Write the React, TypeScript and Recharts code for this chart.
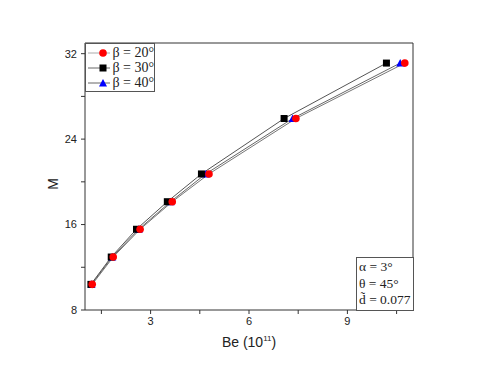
import React from 'react';
import { LineChart, Line, XAxis, YAxis, ReferenceLine } from 'recharts';

const mValues = [10.4, 12.96, 15.56, 18.14, 20.74, 25.93, 31.12];
const be20 = [1.22, 1.86, 2.68, 3.66, 4.78, 7.43, 10.75];
const be30 = [1.18, 1.8, 2.57, 3.51, 4.55, 7.07, 10.19];
const be40 = [1.2, 1.83, 2.64, 3.61, 4.68, 7.33, 10.61];
const xTicks = [1.5, 3, 4.5, 6, 7.5, 9, 10.5];
const xLabeled = [3, 6, 9];
const yTicks = [8, 12, 16, 20, 24, 28, 32];
const yLabeled = [8, 16, 24, 32];
const seriesNames = ['β = 20°', 'β = 30°', 'β = 40°'];
const annotations = ['α = 3°', 'θ = 45°', 'd̃ = 0.077'];

const toRows = (be: number[]) => be.map((b, i) => ({ be: b, m: mValues[i] }));
const d20 = toRows(be20);
const d30 = toRows(be30);
const d40 = toRows(be40);

const Circle = (p: any) => <circle key={p.index} cx={p.cx} cy={p.cy} r={3.8} fill="#ff0000" />;
const Square = (p: any) => <rect key={p.index} x={p.cx - 3.5} y={p.cy - 3.5} width={7} height={7} fill="#000" />;
const Tri = (p: any) => (
  <polygon key={p.index} points={`${p.cx},${p.cy - 4} ${p.cx - 4},${p.cy + 3.5} ${p.cx + 4},${p.cy + 3.5}`} fill="#0000ff" />
);

const LegendIcon = ({ kind }: { kind: number }) => (
  <svg width={30} height={10} style={{ display: 'block' }}>
    <line x1={0} y1={5} x2={30} y2={5} stroke={kind === 0 ? '#aaa' : '#666'} strokeWidth={1} />
    {kind === 0 && <circle cx={15} cy={5} r={3.8} fill="#ff0000" />}
    {kind === 1 && <rect x={11.5} y={1.5} width={7} height={7} fill="#000" />}
    {kind === 2 && <polygon points="15,1 11,8.5 19,8.5" fill="#0000ff" />}
  </svg>
);

const axisColor = '#333';
const serif = '"Liberation Serif", "Times New Roman", serif';
const sans = '"Liberation Sans", Arial, sans-serif';
const tickFont = { fontFamily: sans, fontSize: 11, fill: '#222' };

export default function App() {
  return (
    <div style={{ position: 'relative', width: 472, height: 364 }}>
      <LineChart width={472} height={364} margin={{ top: 35, right: 67, left: 0, bottom: 32 }}>
        <XAxis
          type="number"
          dataKey="be"
          domain={[1, 11]}
          ticks={xTicks}
          allowDataOverflow
          tickFormatter={(v: number) => (xLabeled.includes(v) ? String(v) : '')}
          stroke={axisColor}
          tickSize={4}
          tickMargin={3}
          tick={tickFont}
          height={30}
          label={{
            content: (props: any) => {
              const vb = props.viewBox;
              return (
                <text x={vb.x + vb.width / 2} y={vb.y + 37} textAnchor="middle" fontFamily={sans} fontSize={14} fill="#222">
                  <tspan>Be (10</tspan>
                  <tspan dy={-6} fontSize={8}>11</tspan>
                  <tspan dy={6}>)</tspan>
                </text>
              );
            },
          }}
        />
        <YAxis
          type="number"
          domain={[8, 33]}
          ticks={yTicks}
          allowDataOverflow
          tickFormatter={(v: number) => (yLabeled.includes(v) ? String(v) : '')}
          stroke={axisColor}
          tickSize={4}
          tickMargin={4}
          tick={tickFont}
          width={77}
          label={{
            content: () => (
              <text x={45} y={176} transform="rotate(-90 45 176)" textAnchor="middle" dominantBaseline="central" fontFamily={sans} fontSize={14} fill="#222">
                M
              </text>
            ),
          }}
        />
        <ReferenceLine y={33} stroke={axisColor} />
        <ReferenceLine x={11} stroke={axisColor} />
        <Line data={d40} dataKey="m" name={seriesNames[2]} stroke="#666" strokeWidth={1} dot={Tri} isAnimationActive={false} />
        <Line data={d30} dataKey="m" name={seriesNames[1]} stroke="#555" strokeWidth={1} dot={Square} isAnimationActive={false} />
        <Line data={d20} dataKey="m" name={seriesNames[0]} stroke="#777" strokeWidth={1} dot={Circle} isAnimationActive={false} />
      </LineChart>
      <div
        style={{
          position: 'absolute',
          left: 77,
          top: 35,
          width: 70,
          height: 49,
          border: '1px solid #555',
          boxSizing: 'border-box',
          background: '#fff',
          fontFamily: serif,
          fontSize: 14,
          color: '#222',
          padding: '2px 0 0 2px',
        }}
      >
        {seriesNames.map((n, i) => (
          <div key={n} style={{ display: 'flex', alignItems: 'center', height: 14.8, whiteSpace: 'nowrap' }}>
            <LegendIcon kind={i} />
            <span style={{ marginLeft: 2 }}>{n}</span>
          </div>
        ))}
      </div>
      <div
        style={{
          position: 'absolute',
          left: 348,
          top: 249,
          width: 58,
          height: 54,
          border: '1px solid #555',
          boxSizing: 'border-box',
          background: '#fff',
          fontFamily: serif,
          fontSize: 13.5,
          color: '#222',
          padding: '1px 0 0 2px',
        }}
      >
        {annotations.map((a) => (
          <div key={a} style={{ height: 16.5, lineHeight: '16.5px', whiteSpace: 'nowrap' }}>{a}</div>
        ))}
      </div>
    </div>
  );
}
